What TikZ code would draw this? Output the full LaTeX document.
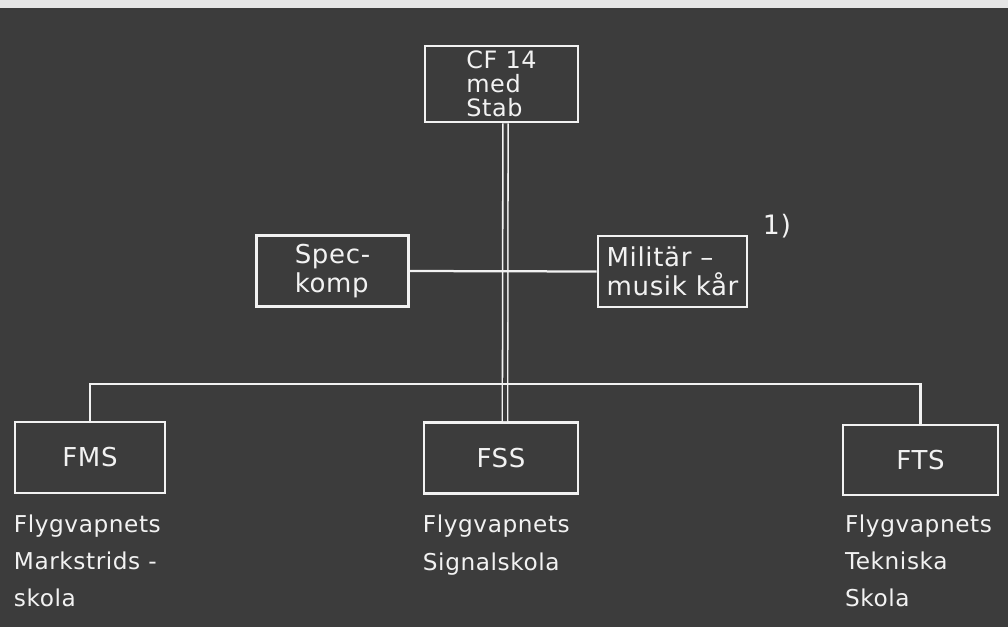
\documentclass[tikz,border=0pt]{standalone}
\usepackage{fontspec}
\newfontfamily\chartfont[LetterSpace=2.5]{DejaVu Sans}
\usetikzlibrary{positioning}
\definecolor{board}{HTML}{3C3C3C}
\definecolor{chalk}{HTML}{F2F2F2}
\tikzset{
  unit/.style={draw=chalk, line width=1.9pt, text=chalk, inner sep=0, align=left,
    minimum width=3.8cm, minimum height=1.78cm, font=\chartfont\fontsize{18.5}{21}\selectfont},
  note/.style={text=chalk, inner sep=0, align=left, anchor=north west,
    font=\chartfont\fontsize{16.5}{26.5}\selectfont},
  wire/.style={draw=chalk, line width=1.6pt},
  trunk/.style={draw=chalk, line width=1.1pt, double=board, double distance=2.6pt}
}
\begin{document}
\begin{tikzpicture}[x=0.025cm, y=-0.025cm]
	\fill [board] (0,0) rectangle (1008,627);
	\fill [chalk!95!black] (0,0) rectangle (1008,8);
	% top and middle level
	\node [unit, minimum width=3.83cm, minimum height=1.9cm, font=\chartfont\fontsize{17}{17}\selectfont] at (501.5,84) (cf) {CF 14\\med\\Stab};
	\node [unit] at (332.5,271) (spec) {Spec-\\komp};
	\node [unit, minimum width=3.73cm] at (672.5,271.5) (musik) {Militär –\\musik kår};
	\node [text=chalk, inner sep=0, font=\chartfont\fontsize{19}{20}\selectfont] at (777,226) (fn) {1)};
	% schools
	\node [unit, minimum width=3.75cm] at (90,457.5) (fms) {FMS};
	\node [unit, minimum width=3.85cm] at (501,458) (fss) {FSS};
	\node [unit, minimum width=3.88cm, minimum height=1.75cm] at (920.5,460) (fts) {FTS};
	\node [note] at ([yshift=-0.5cm]fms.south west) (fmsnote) {Flygvapnets\\Markstrids -\\skola};
	\node [note] at ([yshift=-0.5cm]fss.south west) (fssnote) {Flygvapnets\\Signalskola};
	\node [note] at ([xshift=0.08cm,yshift=-0.45cm]fts.south west) (ftsnote) {Flygvapnets\\Tekniska\\Skola};
	% connectors
	\coordinate (bus) at (505.5,384);
	\draw [trunk] ([xshift=0.1cm]cf.south) -- ([xshift=0.1cm]fss.north);
	\draw [wire] (spec.east) -- (musik.west);
	\draw [wire] (fms.north) -- (fms.north |- bus) -- (fts.north |- bus) -- (fts.north);
\end{tikzpicture}
\end{document}
